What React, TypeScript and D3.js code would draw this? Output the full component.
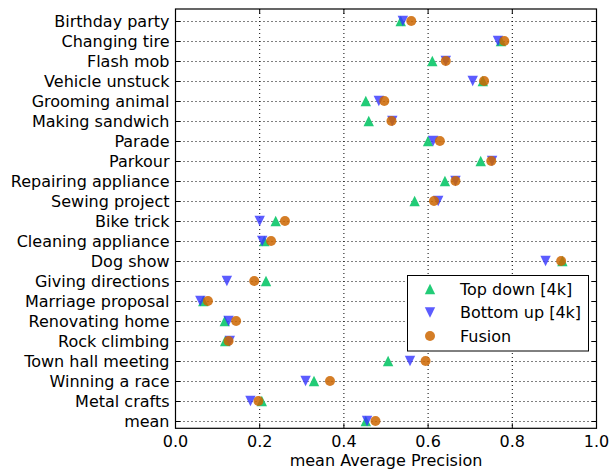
import * as d3 from "d3";
import React, { useEffect, useRef } from "react";

const categories = [
  "Birthday party",
  "Changing tire",
  "Flash mob",
  "Vehicle unstuck",
  "Grooming animal",
  "Making sandwich",
  "Parade",
  "Parkour",
  "Repairing appliance",
  "Sewing project",
  "Bike trick",
  "Cleaning appliance",
  "Dog show",
  "Giving directions",
  "Marriage proposal",
  "Renovating home",
  "Rock climbing",
  "Town hall meeting",
  "Winning a race",
  "Metal crafts",
  "mean",
];

const topDown = [
  0.535, 0.773, 0.61, 0.73, 0.452, 0.459, 0.6, 0.725, 0.64, 0.568, 0.238,
  0.211, 0.919, 0.215, 0.066, 0.117, 0.118, 0.505, 0.329, 0.205, 0.452,
];
const bottomUp = [
  0.54, 0.766, 0.642, 0.706, 0.483, 0.515, 0.612, 0.752, 0.665, 0.624, 0.2,
  0.206, 0.879, 0.122, 0.059, 0.126, 0.129, 0.557, 0.309, 0.178, 0.455,
];
const fusion = [
  0.56, 0.781, 0.642, 0.733, 0.496, 0.513, 0.628, 0.75, 0.665, 0.614, 0.26,
  0.227, 0.916, 0.187, 0.077, 0.144, 0.126, 0.594, 0.367, 0.197, 0.475,
];

const xTicks = [0, 0.2, 0.4, 0.6, 0.8, 1.0];
const seriesNames = ["Top down [4k]", "Bottom up [4k]", "Fusion"];

const App: React.FC = () => {
  const ref = useRef<SVGSVGElement>(null);

  useEffect(() => {
    if (!ref.current) return;
    const svg = d3.select(ref.current);
    svg.selectAll("*").remove();

    const left = 175.5;
    const right = 596.5;
    const top = 9;
    const bottom = 428.3;
    const font = "'DejaVu Sans', sans-serif";
    const fs = 16;

    const x = d3.scaleLinear().domain([0, 1]).range([left, right]);
    const y = d3
      .scaleLinear()
      .domain([-0.6, categories.length - 1 + 0.365])
      .range([top, bottom]);

    const g = svg.append("g");

    // grid (dotted)
    g.selectAll(".vgrid")
      .data(xTicks.slice(1, -1))
      .enter()
      .append("line")
      .attr("x1", (d) => x(d))
      .attr("x2", (d) => x(d))
      .attr("y1", top)
      .attr("y2", bottom)
      .attr("stroke", "#000")
      .attr("stroke-width", 1)
      .attr("stroke-dasharray", "1,3");
    g.selectAll(".hgrid")
      .data(categories)
      .enter()
      .append("line")
      .attr("x1", left)
      .attr("x2", right)
      .attr("y1", (_, i) => Math.round(y(i)) + 0.5)
      .attr("y2", (_, i) => Math.round(y(i)) + 0.5)
      .attr("stroke", "#000")
      .attr("stroke-width", 1)
      .attr("stroke-dasharray", "1,3");

    // ticks inside, on all four sides
    xTicks.forEach((t) => {
      g.append("line")
        .attr("x1", x(t)).attr("x2", x(t))
        .attr("y1", bottom).attr("y2", bottom - 5)
        .attr("stroke", "#000");
      g.append("line")
        .attr("x1", x(t)).attr("x2", x(t))
        .attr("y1", top).attr("y2", top + 5)
        .attr("stroke", "#000");
      g.append("text")
        .attr("x", x(t))
        .attr("y", bottom + 19)
        .attr("text-anchor", "middle")
        .attr("font-family", font)
        .attr("font-size", fs)
        .text(t.toFixed(1));
    });
    categories.forEach((c, i) => {
      const yy = Math.round(y(i)) + 0.5;
      g.append("line")
        .attr("x1", left).attr("x2", left + 5)
        .attr("y1", yy).attr("y2", yy)
        .attr("stroke", "#000");
      g.append("line")
        .attr("x1", right).attr("x2", right - 5)
        .attr("y1", yy).attr("y2", yy)
        .attr("stroke", "#000");
      g.append("text")
        .attr("x", left - 6)
        .attr("y", y(i))
        .attr("dy", "0.35em")
        .attr("text-anchor", "end")
        .attr("font-family", font)
        .attr("font-size", fs)
        .text(c);
    });

    // markers
    const s = 5.2;
    const up = `M0,${-s}L${s},${s}L${-s},${s}Z`;
    const down = `M0,${s}L${s},${-s}L${-s},${-s}Z`;
    const circle = d3.symbol(d3.symbolCircle, Math.PI * 5 * 5)() as string;
    const styles = [
      { data: topDown, path: up, color: "#22cc77", opacity: 1 },
      { data: bottomUp, path: down, color: "#3333ff", opacity: 0.8 },
      { data: fusion, path: circle, color: "#cc6600", opacity: 0.85 },
    ];
    styles.forEach((st) => {
      g.append("g")
        .selectAll("path")
        .data(st.data)
        .enter()
        .append("path")
        .attr("d", st.path)
        .attr("transform", (d, i) => `translate(${x(d)},${y(i)})`)
        .attr("fill", st.color)
        .attr("fill-opacity", st.opacity);
    });

    // frame
    g.append("rect")
      .attr("x", left)
      .attr("y", top)
      .attr("width", right - left)
      .attr("height", bottom - top)
      .attr("fill", "none")
      .attr("stroke", "#000")
      .attr("stroke-width", 1.2);

    // x label
    g.append("text")
      .attr("x", (left + right) / 2)
      .attr("y", 466)
      .attr("text-anchor", "middle")
      .attr("font-family", font)
      .attr("font-size", fs)
      .text("mean Average Precision");

    // legend
    const lg = g.append("g");
    lg.append("rect")
      .attr("x", 407.5)
      .attr("y", 275.5)
      .attr("width", 181)
      .attr("height", 75.5)
      .attr("fill", "#fff")
      .attr("stroke", "#000")
      .attr("stroke-width", 1);
    seriesNames.forEach((name, i) => {
      const ly = 289 + i * 23.5;
      lg.append("path")
        .attr("d", styles[i].path)
        .attr("transform", `translate(430,${ly})`)
        .attr("fill", styles[i].color)
        .attr("fill-opacity", styles[i].opacity);
      lg.append("text")
        .attr("x", 460)
        .attr("y", ly)
        .attr("dy", "0.35em")
        .attr("font-family", font)
        .attr("font-size", fs)
        .text(name);
    });
  }, []);

  return (
    <svg
      ref={ref}
      width={613}
      height={470}
      style={{ position: "absolute", left: 0, top: 0, background: "#fff" }}
    ></svg>
  );
};

export default App;
